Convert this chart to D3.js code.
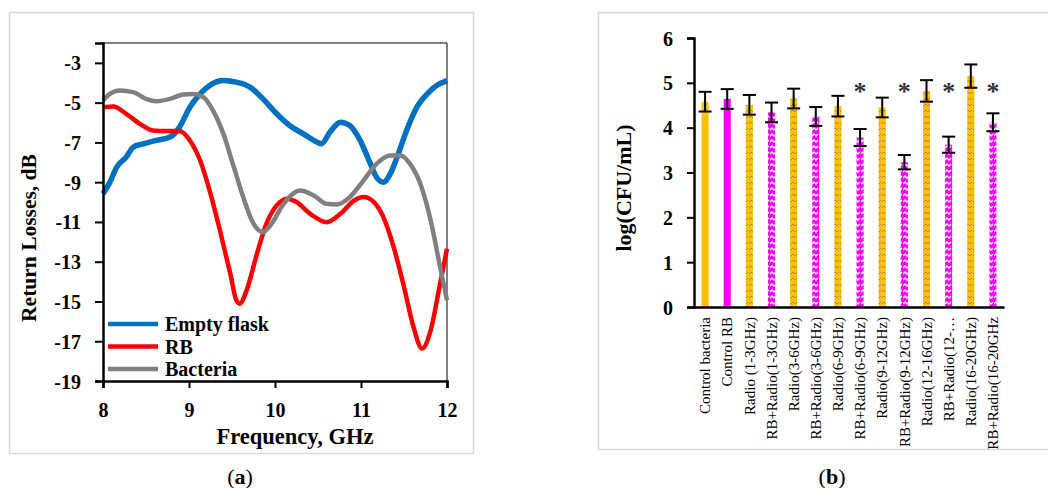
<!DOCTYPE html>
<html>
<head>
<meta charset="utf-8">
<script src="https://cdn.jsdelivr.net/npm/d3@7"></script>
<style>
  body { margin: 0; background: #fff; }
  svg { display: block; font-family: "Liberation Serif", "DejaVu Serif", serif; }
</style>
</head>
<body>
<script>
// ---- panel (a): return losses ----
const emptyFlask = [
  [8.0, -9.58], [8.08, -9.0], [8.16, -8.24], [8.27, -7.74], [8.35, -7.24], [8.47, -7.07],
  [8.62, -6.9], [8.78, -6.73], [8.89, -6.23], [9.01, -5.23], [9.13, -4.56], [9.24, -4.14],
  [9.40, -3.89], [9.55, -3.97], [9.71, -4.22], [9.86, -4.81], [10.02, -5.56], [10.17, -6.15],
  [10.33, -6.57], [10.49, -6.99], [10.54, -7.07], [10.64, -6.48], [10.76, -5.98], [10.87, -6.15],
  [10.99, -6.9], [11.11, -8.08], [11.18, -8.75], [11.26, -9.0], [11.34, -8.58], [11.42, -7.74],
  [11.53, -6.4], [11.65, -5.23], [11.77, -4.56], [11.88, -4.14], [12.0, -3.89]
];
const rb = [
  [8.0, -5.23], [8.12, -5.19], [8.27, -5.56], [8.43, -6.07], [8.58, -6.4], [8.74, -6.43],
  [8.89, -6.43], [9.01, -6.9], [9.13, -7.91], [9.24, -9.42], [9.36, -11.43], [9.48, -13.6],
  [9.55, -14.94], [9.59, -15.11], [9.67, -14.44], [9.79, -12.6], [9.90, -11.09], [10.02, -10.17],
  [10.14, -9.83], [10.25, -10.0], [10.41, -10.59], [10.60, -11.01], [10.76, -10.59], [10.92, -9.92],
  [11.03, -9.75], [11.15, -10.0], [11.26, -10.76], [11.38, -12.27], [11.50, -14.27], [11.61, -16.28],
  [11.71, -17.37], [11.81, -16.45], [11.92, -14.1], [12.0, -12.35]
];
const bacteria = [
  [8.0, -4.89], [8.08, -4.56], [8.19, -4.39], [8.35, -4.47], [8.50, -4.81], [8.62, -4.93],
  [8.78, -4.81], [8.93, -4.59], [9.05, -4.56], [9.17, -4.73], [9.28, -5.4], [9.40, -6.57],
  [9.51, -8.08], [9.63, -9.75], [9.75, -11.09], [9.86, -11.51], [9.96, -11.09], [10.10, -10.09],
  [10.29, -9.42], [10.45, -9.67], [10.60, -10.09], [10.72, -10.12], [10.87, -9.75], [11.03, -8.91],
  [11.18, -8.08], [11.34, -7.66], [11.46, -7.66], [11.57, -8.08], [11.69, -9.08], [11.81, -10.92],
  [11.92, -13.27], [12.0, -14.94]
];
const seriesNames = ["Empty flask", "RB", "Bacteria"];
const seriesColors = ["#0070C0", "#FF0000", "#808080"];
const freqTicks = [8, 9, 10, 11, 12];
const lossTicks = [-19, -17, -15, -13, -11, -9, -7, -5, -3];

// ---- panel (b): bacterial counts ----
const groups = [
  "Control bacteria", "Control RB", "Radio (1-3GHz)", "RB+Radio(1-3GHz)", "Radio(3-6GHz)",
  "RB+Radio(3-6GHz)", "Radio(6-9GHz)", "RB+Radio(6-9GHz)", "Radio(9-12GHz)", "RB+Radio(9-12GHz)",
  "Radio(12-16GHz)", "RB+Radio(12-…", "Radio(16-20GHz)", "RB+Radio(16-20GHz"
];
const logCfu = [4.58, 4.64, 4.51, 4.34, 4.65, 4.25, 4.48, 3.78, 4.45, 3.23, 4.82, 3.62, 5.15, 4.12];
const errs = [0.22, 0.22, 0.22, 0.22, 0.22, 0.21, 0.23, 0.19, 0.22, 0.16, 0.24, 0.18, 0.26, 0.2];
const fills = ["solidO", "solidM", "patO", "patM", "patO", "patM", "patO", "patM", "patO", "patM", "patO", "patM", "patO", "patM"];
const starred = [7, 9, 11, 13];
const cfuTicks = [0, 1, 2, 3, 4, 5, 6];

const svg = d3.select("body").append("svg")
  .attr("width", 1048)
  .attr("height", 488);

// panel frames
svg.append("rect").attr("x", 9.5).attr("y", 12.5).attr("width", 464).attr("height", 441)
  .attr("fill", "none").attr("stroke", "#d9d9d9").attr("stroke-width", 1.5);
svg.append("rect").attr("x", 598.5).attr("y", 12.5).attr("width", 470).attr("height", 437)
  .attr("fill", "none").attr("stroke", "#d9d9d9").attr("stroke-width", 1.5);

// ===== panel (a) =====
const x = d3.scaleLinear().domain([8, 12]).range([103, 447]);
const y = d3.scaleLinear().domain([-19, -2]).range([381, 43]);

const a = svg.append("g");

// frame top/right
a.append("path")
  .attr("d", `M${x(8)},${y(-2)}H${x(12)}V${y(-19)}`)
  .attr("fill", "none").attr("stroke", "#000").attr("stroke-width", 1);

const line = d3.line().x(d => x(d[0])).y(d => y(d[1])).curve(d3.curveMonotoneX);
[emptyFlask, rb, bacteria].forEach((data, i) => {
  a.append("path")
    .datum(data)
    .attr("d", line)
    .attr("fill", "none")
    .attr("stroke", seriesColors[i])
    .attr("stroke-width", i === 0 ? 5.5 : 4.5)
    .attr("stroke-linejoin", "round");
});

const yAxisA = a.append("g")
  .attr("transform", `translate(${x(8)},0)`)
  .call(d3.axisLeft(y).tickValues(lossTicks).tickFormat(d => String(d)).tickSize(8).tickPadding(14));
const xAxisA = a.append("g")
  .attr("transform", `translate(0,${y(-19)})`)
  .call(d3.axisBottom(x).tickValues(freqTicks).tickFormat(d => String(d)).tickSize(7).tickPadding(15));
[yAxisA, xAxisA].forEach(g => {
  g.select(".domain").attr("stroke-width", 2.5);
  g.selectAll(".tick line").attr("stroke-width", 2);
  g.selectAll("text").attr("font-size", 20).attr("font-weight", "bold")
    .attr("font-family", "Liberation Serif").attr("fill", "#000");
});
yAxisA.selectAll("text").attr("dy", "0.35em");

a.append("text")
  .attr("x", 295).attr("y", 444)
  .attr("text-anchor", "middle")
  .attr("font-size", 22.5).attr("font-weight", "bold")
  .text("Frequency, GHz");
a.append("text")
  .attr("transform", "translate(36,238) rotate(-90)")
  .attr("text-anchor", "middle")
  .attr("font-size", 21.5).attr("font-weight", "bold")
  .text("Return Losses, dB");

// legend
const legend = a.append("g").attr("transform", "translate(108,324)");
seriesNames.forEach((name, i) => {
  legend.append("line")
    .attr("x1", 0).attr("x2", 50)
    .attr("y1", i * 22.5).attr("y2", i * 22.5)
    .attr("stroke", seriesColors[i]).attr("stroke-width", 4.5);
  legend.append("text")
    .attr("x", 57).attr("y", i * 22.5).attr("dy", "0.35em")
    .attr("font-size", 20).attr("font-weight", "bold")
    .text(name);
});

svg.append("text")
  .attr("x", 240).attr("y", 484)
  .attr("text-anchor", "middle").attr("font-size", 22)
  .html('(<tspan font-weight="bold">a</tspan>)');

// ===== panel (b) =====
const defs = svg.append("defs");
const patO = defs.append("pattern").attr("id", "patO")
  .attr("patternUnits", "userSpaceOnUse").attr("width", 7).attr("height", 6);
patO.append("rect").attr("width", 7).attr("height", 6).attr("fill", "#FFC000");
patO.append("path").attr("d", "M0,4 L2,2 L4,4 L6,2")
  .attr("fill", "none").attr("stroke", "#9a8a5a").attr("stroke-width", 1);
const patM = defs.append("pattern").attr("id", "patM")
  .attr("patternUnits", "userSpaceOnUse").attr("width", 7).attr("height", 6);
patM.append("rect").attr("width", 7).attr("height", 6).attr("fill", "#FF00FF");
patM.append("path").attr("d", "M0,4 L2,2 L4,4 L6,2")
  .attr("fill", "none").attr("stroke", "#ffffff").attr("stroke-width", 1.3);
const fillColor = { solidO: "#FFC000", solidM: "#FF00FF", patO: "url(#patO)", patM: "url(#patM)" };

const xb = d3.scaleBand().domain(groups).range([694, 1004]).paddingInner(0.68).paddingOuter(0.34);
const yb = d3.scaleLinear().domain([0, 6]).range([307, 38]);

const b = svg.append("g");

b.selectAll("rect.bar")
  .data(groups)
  .join("rect")
  .attr("class", "bar")
  .attr("x", d => xb(d))
  .attr("width", xb.bandwidth())
  .attr("y", (d, i) => yb(logCfu[i]))
  .attr("height", (d, i) => yb(0) - yb(logCfu[i]))
  .attr("fill", (d, i) => fillColor[fills[i]]);

// error bars
const eb = b.selectAll("g.err")
  .data(groups)
  .join("g")
  .attr("class", "err")
  .attr("transform", d => `translate(${xb(d) + xb.bandwidth() / 2},0)`);
eb.append("line")
  .attr("y1", (d, i) => yb(logCfu[i] - errs[i]))
  .attr("y2", (d, i) => yb(logCfu[i] + errs[i]))
  .attr("stroke", "#000").attr("stroke-width", 2);
eb.append("line")
  .attr("x1", -6.5).attr("x2", 6.5)
  .attr("y1", (d, i) => yb(logCfu[i] + errs[i]))
  .attr("y2", (d, i) => yb(logCfu[i] + errs[i]))
  .attr("stroke", "#000").attr("stroke-width", 2);
eb.append("line")
  .attr("x1", -6.5).attr("x2", 6.5)
  .attr("y1", (d, i) => yb(logCfu[i] - errs[i]))
  .attr("y2", (d, i) => yb(logCfu[i] - errs[i]))
  .attr("stroke", "#000").attr("stroke-width", 2);

// significance marks
b.selectAll("text.star")
  .data(starred)
  .join("text")
  .attr("class", "star")
  .attr("x", i => xb(groups[i]) + xb.bandwidth() / 2)
  .attr("y", yb(4.97))
  .attr("dy", "0.6em")
  .attr("text-anchor", "middle")
  .attr("font-size", 26)
  .attr("font-weight", "bold")
  .attr("fill", "#333")
  .text("*");

const yAxisB = b.append("g")
  .attr("transform", "translate(694,0)")
  .call(d3.axisLeft(yb).tickValues(cfuTicks).tickFormat(d => String(d)).tickSize(7).tickPadding(14));
yAxisB.select(".domain").attr("stroke-width", 2.5);
yAxisB.selectAll(".tick line").attr("stroke-width", 2);
yAxisB.selectAll("text").attr("font-size", 20).attr("font-weight", "bold")
  .attr("font-family", "Liberation Serif").attr("fill", "#000").attr("dy", "0.35em");

const xAxisB = b.append("g")
  .attr("transform", "translate(0,307)")
  .call(d3.axisBottom(xb).tickSize(0).tickPadding(10));
xAxisB.select(".domain").attr("stroke-width", 2.5);
xAxisB.selectAll("text")
  .attr("font-size", 15)
  .attr("font-family", "Liberation Serif")
  .attr("fill", "#000")
  .attr("text-anchor", "end")
  .attr("transform", "rotate(-90)")
  .attr("x", -10).attr("y", 0).attr("dy", "0.35em");

b.append("text")
  .attr("transform", "translate(631,188) rotate(-90)")
  .attr("text-anchor", "middle")
  .attr("font-size", 22).attr("font-weight", "bold")
  .text("log(CFU/mL)");

svg.append("text")
  .attr("x", 832).attr("y", 484)
  .attr("text-anchor", "middle").attr("font-size", 22)
  .html('(<tspan font-weight="bold">b</tspan>)');
</script>
</body>
</html>
